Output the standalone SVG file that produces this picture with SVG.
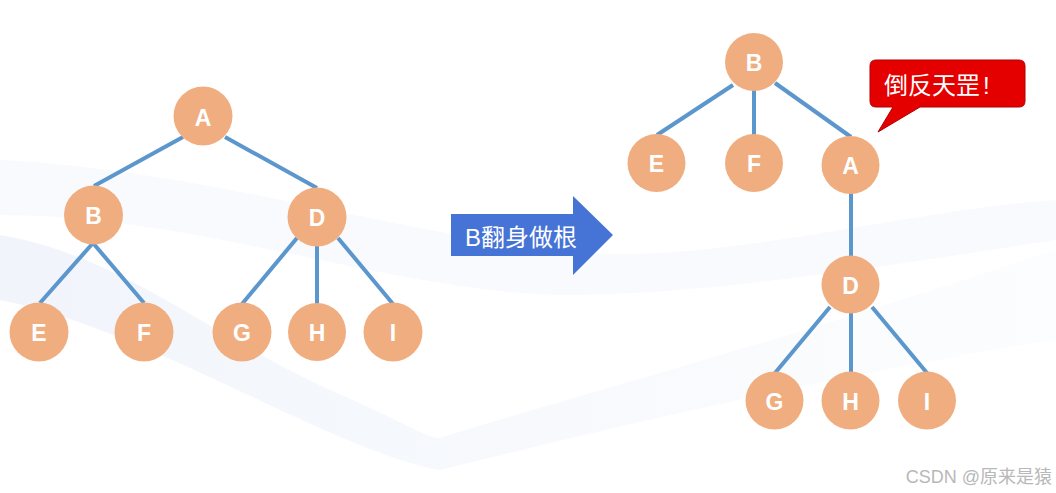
<svg xmlns="http://www.w3.org/2000/svg" width="1056" height="493" viewBox="0 0 1056 493">
<defs>
<style>
.node circle{fill:#f0ae80}
.node text{fill:#fff;font-family:"Liberation Sans","Noto Sans",sans-serif;font-weight:bold;font-size:23px;text-anchor:middle;dominant-baseline:central}
.edge{stroke:#5b96cc;stroke-width:4;fill:none;stroke-linecap:butt}
.cjk{font-family:"Liberation Sans","Noto Sans CJK SC",sans-serif}
</style>
<linearGradient id="wave" x1="0" y1="0" x2="1" y2="0">
<stop offset="0" stop-color="#edf2fa" stop-opacity="0.8"/>
<stop offset="0.6" stop-color="#f1f5fb" stop-opacity="0.5"/>
<stop offset="1" stop-color="#f5f8fc" stop-opacity="0.3"/>
</linearGradient>
</defs>
<rect x="0" y="0" width="1056" height="493" fill="#ffffff"/>
<g id="background">
<path d="M0,235 C120,255 200,330 330,390 C400,420 430,440 440,438 C560,400 720,360 1056,250 L1056,340 C860,370 640,420 440,470 C330,450 150,330 0,300 Z" fill="url(#wave)"/>
<path d="M0,160 C200,170 380,230 560,250 C700,270 900,210 1056,200 L1056,240 C860,270 700,295 560,295 C380,290 200,215 0,215 Z" fill="#f4f7fc" opacity="0.6"/>
</g>
<g id="connectors">
<line class="edge" x1="183" y1="137" x2="94" y2="186"/>
<line class="edge" x1="225" y1="137" x2="317" y2="188"/>
<line class="edge" x1="93" y1="243" x2="40" y2="303"/>
<line class="edge" x1="93" y1="243" x2="144" y2="303"/>
<line class="edge" x1="297" y1="238" x2="242" y2="304"/>
<line class="edge" x1="317" y1="244" x2="317" y2="304"/>
<line class="edge" x1="338" y1="238" x2="393" y2="304"/>
<line class="edge" x1="733" y1="85" x2="657" y2="135"/>
<line class="edge" x1="754" y1="89" x2="754" y2="136"/>
<line class="edge" x1="775" y1="83" x2="851" y2="137"/>
<line class="edge" x1="851" y1="192" x2="851" y2="258"/>
<line class="edge" x1="830" y1="307" x2="775" y2="373"/>
<line class="edge" x1="851" y1="311" x2="851" y2="373"/>
<line class="edge" x1="872" y1="307" x2="927" y2="373"/>
</g>
<g id="node-A-left" class="node"><circle cx="203" cy="116" r="29.5"/><text x="203" y="118">A</text></g>
<g id="node-B-left" class="node"><circle cx="93.5" cy="215" r="29.5"/><text x="93.5" y="216">B</text></g>
<g id="node-D-left" class="node"><circle cx="317" cy="217" r="29.5"/><text x="317" y="218">D</text></g>
<g id="node-E-left" class="node"><circle cx="39" cy="332" r="29.5"/><text x="39" y="333">E</text></g>
<g id="node-F-left" class="node"><circle cx="144" cy="332" r="29.5"/><text x="144" y="333">F</text></g>
<g id="node-G-left" class="node"><circle cx="242" cy="332" r="29.5"/><text x="242" y="333">G</text></g>
<g id="node-H-left" class="node"><circle cx="317" cy="332" r="29"/><text x="317" y="333">H</text></g>
<g id="node-I-left" class="node"><circle cx="393" cy="332" r="29.5"/><text x="393" y="333">I</text></g>
<g id="node-B-right" class="node"><circle cx="754" cy="62" r="29"/><text x="754" y="63">B</text></g>
<g id="node-E-right" class="node"><circle cx="656.5" cy="163" r="29"/><text x="656.5" y="164">E</text></g>
<g id="node-F-right" class="node"><circle cx="754" cy="163" r="29"/><text x="754" y="164">F</text></g>
<g id="node-A-right" class="node"><circle cx="850.5" cy="165" r="29"/><text x="850.5" y="166">A</text></g>
<g id="node-D-right" class="node"><circle cx="850.5" cy="284.5" r="29"/><text x="850.5" y="286">D</text></g>
<g id="node-G-right" class="node"><circle cx="774.5" cy="400.5" r="29"/><text x="774.5" y="402">G</text></g>
<g id="node-H-right" class="node"><circle cx="850.5" cy="400.5" r="29"/><text x="850.5" y="402">H</text></g>
<g id="node-I-right" class="node"><circle cx="927" cy="400.5" r="29"/><text x="927" y="402">I</text></g>
<g id="arrow">
<path d="M451,214 L573,214 L573,196 L613,235 L573,275 L573,256 L451,256 Z" fill="#4673d6"/>
<text class="cjk" x="465" y="246" fill="#fff" font-size="24">B翻身做根</text>
</g>
<g id="callout">
<path d="M876,60 L1019,60 Q1025,60 1025,66 L1025,101 Q1025,107 1019,107 L920,107 L878,132 L893,107 L876,107 Q870,107 870,101 L870,66 Q870,60 876,60 Z" fill="#e50000" stroke="#b00000" stroke-width="1"/>
<text class="cjk" x="884" y="94" fill="#fff" font-size="24">倒反天罡<tspan dx="3">!</tspan></text>
</g>
<text class="cjk" x="1052" y="483" fill="#b8b8b8" font-size="18" text-anchor="end">CSDN @原来是猿</text>
</svg>
